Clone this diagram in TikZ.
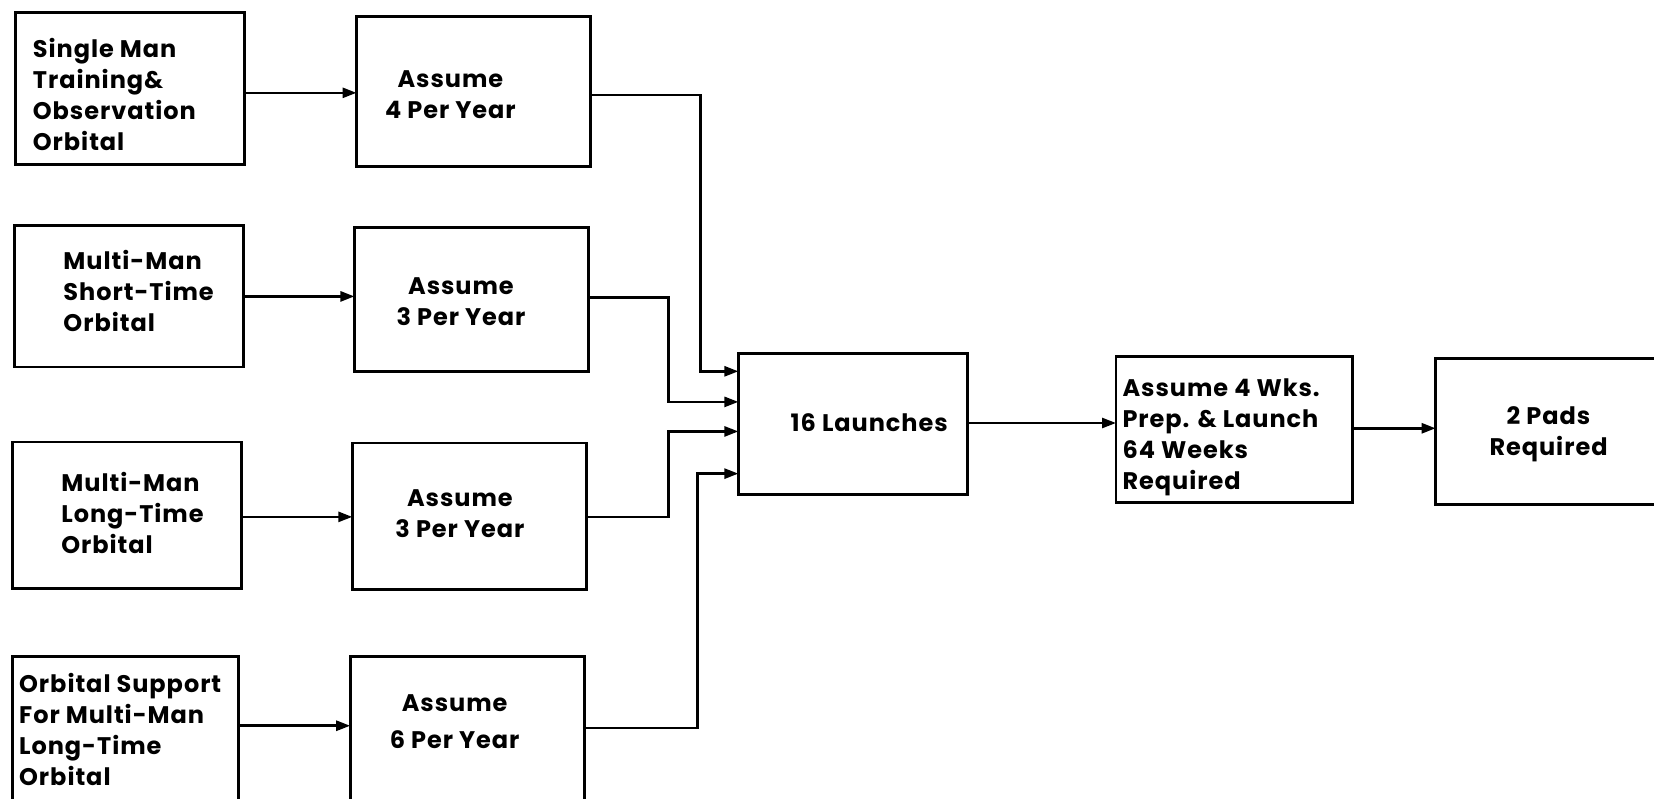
\documentclass[tikz,border=0pt]{standalone}
\usepackage{fontspec}
\setmainfont{Poppins}[LetterSpace=4]
\usetikzlibrary{arrows.meta,fit}
\begin{document}
\begin{tikzpicture}[x=1.0548pt,y=-1.0548pt,
  box/.style={draw,line width=2.8pt,inner sep=0pt,outer sep=0pt},
  txt/.style={inner sep=0pt,font=\bfseries\fontsize{24}{31}\selectfont},
  arr/.style={line width=2.6pt,-{Triangle[length=14pt,width=10pt]}}]
\useasboundingbox (0,0) rectangle (1568,757);
\fill[white] (0,0) rectangle (1568,757);
% boxes
\node[box,fit={(15,12) (232,156)}] (a1) {};
\node[box,fit={(338,16) (560,158)}] (b1) {};
\node[box,fit={(14,214) (231,348)}] (a2) {};
\node[box,fit={(336,216) (558,352)}] (b2) {};
\node[box,fit={(12,419) (229,558)}] (a3) {};
\node[box,fit={(334,420) (556,559)}] (b3) {};
\node[box,fit={(12,622) (226,770)}] (a4) {};
\node[box,fit={(332,622) (554,770)}] (b4) {};
\node[box,fit={(700,335) (917,469)}] (c) {};
\node[box,fit={(1058,338) (1282,476)}] (d) {};
\node[box,fit={(1361,340) (1580,478)}] (e) {};
% texts
\node[txt,align=left,anchor=west] (ta1) at (31,90) {Single Man\\Training\&\\Observation\\Orbital};
\node[txt,align=center] (tb1) at (427,90) {Assume\\4 Per Year};
\node[txt,align=left,anchor=west] (ta2) at (60,276) {Multi-Man\\Short-Time\\Orbital};
\node[txt,align=center] (tb2) at (437,286) {Assume\\3 Per Year};
\node[txt,align=left,anchor=west] (ta3) at (58,486) {Multi-Man\\Long-Time\\Orbital};
\node[txt,align=center] (tb3) at (436,487) {Assume\\3 Per Year};
\node[txt,align=left,anchor=west] (ta4) at (18,692) {Orbital Support\\For Multi-Man\\Long-Time\\Orbital};
\node[txt,align=center] (tb4) at (431,684) {Assume\\[6pt]6 Per Year};
\node[txt] (tc) at (824,401) {16 Launches};
\node[txt,align=left,anchor=west] (td) at (1064,415) {Assume 4 Wks.\\Prep. \& Launch\\64 Weeks\\Required};
\node[txt,align=center] (te) at (1468,412) {2 Pads\\Required};
% connectors
\draw[arr] (a1.east |- 0,88) -- (b1.west |- 0,88);
\draw[arr] (a2.east |- 0,281) -- (b2.west |- 0,281);
\draw[arr] (a3.east |- 0,490) -- (b3.west |- 0,490);
\draw[arr] (a4.east |- 0,688) -- (b4.west |- 0,688);
\draw[arr] (b1.east |- 0,90) -- (664,90) -- (664,352) -- (c.west |- 0,352);
\draw[arr] (b2.east |- 0,282) -- (634,282) -- (634,381) -- (c.west |- 0,381);
\draw[arr] (b3.east |- 0,490) -- (634,490) -- (634,409) -- (c.west |- 0,409);
\draw[arr] (b4.east |- 0,690) -- (661,690) -- (661,449) -- (c.west |- 0,449);
\draw[arr] (c.east |- 0,401) -- (d.west |- 0,401);
\draw[arr] (d.east |- 0,406) -- (e.west |- 0,406);
\end{tikzpicture}
\end{document}
